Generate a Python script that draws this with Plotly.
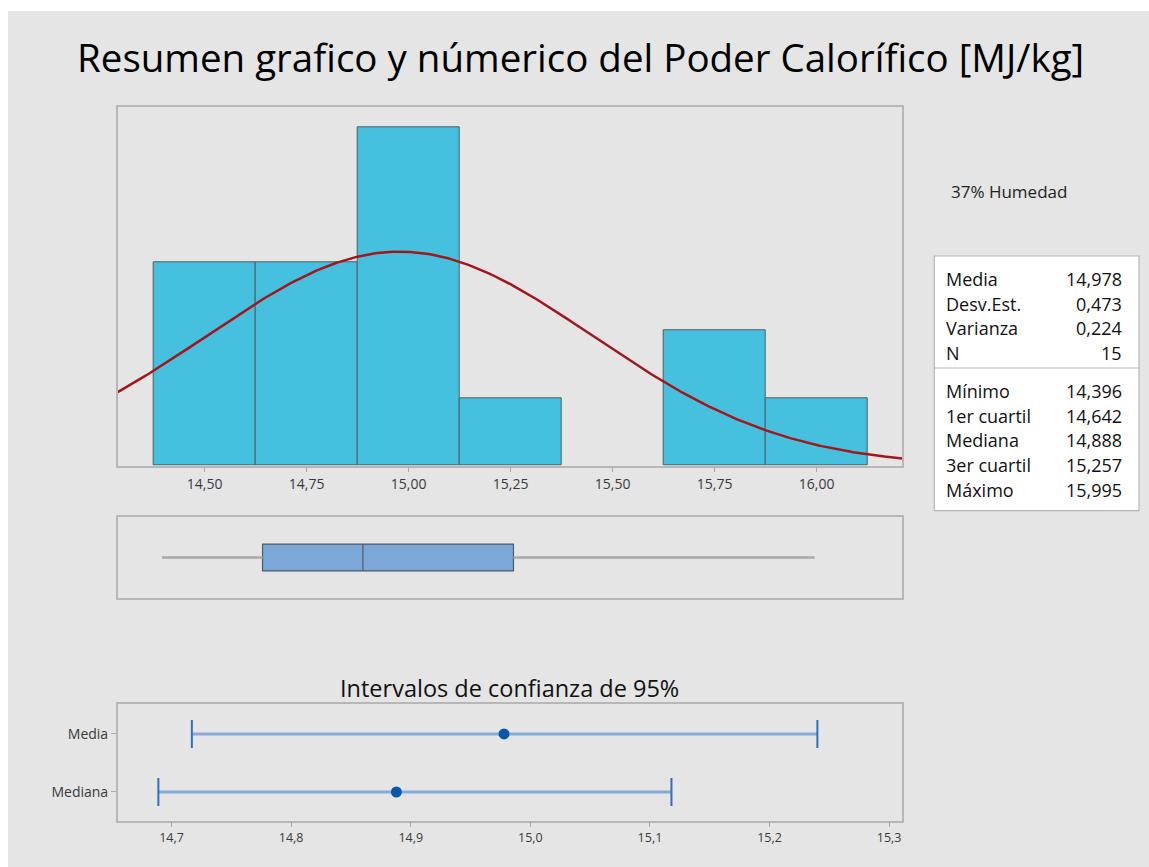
import numpy as np
import plotly.graph_objects as go

# ---------------- data ----------------
bin_centers = [14.5, 14.75, 15.0, 15.25, 15.5, 15.75, 16.0]
counts = [3, 3, 5, 1, 0, 2, 1]
bin_width = 0.25

mean_val = 14.978
sd_val = 0.473
n_val = 15
min_val = 14.396
q1_val = 14.642
median_val = 14.888
q3_val = 15.257
max_val = 15.995

stat_labels_top = ["Media", "Desv.Est.", "Varianza", "N"]
stat_values_top = ["14,978", "0,473", "0,224", "15"]
stat_labels_bot = ["Mínimo", "1er cuartil", "Mediana", "3er cuartil", "Máximo"]
stat_values_bot = ["14,396", "14,642", "14,888", "15,257", "15,995"]

ci_labels = ["Mediana", "Media"]
ci_center = [14.888, 14.978]
ci_low = [14.689, 14.717]
ci_high = [15.118, 15.240]

hist_ticks = [14.50, 14.75, 15.00, 15.25, 15.50, 15.75, 16.00]
ci_ticks = [14.7, 14.8, 14.9, 15.0, 15.1, 15.2, 15.3]

# ---------------- layout helpers ----------------
W, H = 1149, 867
FONT = "Open Sans"

def px(x):
    return x / W

def py(y):
    return 1 - y / H

hist_xrange = [14.287, 16.21]
ci_xrange = [14.655, 15.311]

fig = go.Figure()

# histogram (no outline for empty bins)
fig.add_trace(go.Bar(
    x=bin_centers, y=counts, width=bin_width,
    marker=dict(color="#45c1df",
                line=dict(color="#4b5d66", width=[1 if c > 0 else 0 for c in counts])),
    xaxis="x", yaxis="y", showlegend=False, hoverinfo="x+y"))

# fitted normal curve from the reported mean / sd
xs = np.linspace(hist_xrange[0], hist_xrange[1], 400)
ys = n_val * bin_width * np.exp(-0.5 * ((xs - mean_val) / sd_val) ** 2) / (sd_val * np.sqrt(2 * np.pi))
fig.add_trace(go.Scatter(x=xs, y=ys, mode="lines",
                         line=dict(color="#a3171b", width=2.5),
                         xaxis="x", yaxis="y", showlegend=False, hoverinfo="skip"))

# boxplot whiskers (gray) and box
for a, b in [(min_val, q1_val), (q3_val, max_val)]:
    fig.add_trace(go.Scatter(x=[a, b], y=[0, 0], mode="lines",
                             line=dict(color="#a9a9a9", width=2.5),
                             xaxis="x2", yaxis="y2", showlegend=False, hoverinfo="skip"))
fig.add_trace(go.Box(
    y=[0], q1=[q1_val], median=[median_val], q3=[q3_val],
    lowerfence=[q1_val], upperfence=[q3_val],
    orientation="h", width=1.0, whiskerwidth=0,
    fillcolor="#7ba7d9", line=dict(color="#4f5b66", width=1.2),
    xaxis="x2", yaxis="y2", showlegend=False, boxpoints=False))

# confidence intervals
for i in range(len(ci_labels)):
    fig.add_trace(go.Scatter(x=[ci_low[i], ci_high[i]], y=[i, i], mode="lines",
                             line=dict(color="#86abd9", width=3),
                             xaxis="x3", yaxis="y3", showlegend=False, hoverinfo="skip"))
    fig.add_trace(go.Scatter(x=[ci_low[i], ci_high[i]], y=[i, i], mode="markers",
                             marker=dict(symbol="line-ns", size=20,
                                         line=dict(color="#2f70bd", width=2)),
                             xaxis="x3", yaxis="y3", showlegend=False, hoverinfo="x"))
fig.add_trace(go.Scatter(x=ci_center, y=list(range(len(ci_labels))), mode="markers",
                         marker=dict(color="#0b58aa", size=11),
                         xaxis="x3", yaxis="y3", showlegend=False, hoverinfo="x"))

frame = dict(showline=True, mirror=True, linecolor="#b7b7b7", linewidth=1.5,
             showgrid=False, zeroline=False)

fig.update_layout(
    width=W, height=H,
    margin=dict(l=0, r=0, t=0, b=0),
    paper_bgcolor="white", plot_bgcolor="white",
    separators=",.",
    bargap=0,
    xaxis=dict(domain=[px(117.7), px(902.3)], range=hist_xrange, anchor="y",
               tickvals=hist_ticks, tickformat=".2f", ticks="outside", ticklen=5,
               tickcolor="#a8a8a8", tickfont=dict(family=FONT, size=14, color="#3a3a3a"), **frame),
    yaxis=dict(domain=[py(465.7), py(107.3)], range=[0, 5.296], anchor="x",
               showticklabels=False, ticks="", **frame),
    xaxis2=dict(domain=[px(117.7), px(902.3)], range=hist_xrange, anchor="y2",
                showticklabels=False, ticks="", **frame),
    yaxis2=dict(domain=[py(597.7), py(517.3)], range=[-1.5, 1.5], anchor="x2",
                showticklabels=False, ticks="", **frame),
    xaxis3=dict(domain=[px(117.7), px(902.3)], range=ci_xrange, anchor="y3",
                tickvals=ci_ticks, tickformat=".1f", ticks="outside", ticklen=5,
                tickcolor="#a8a8a8", tickfont=dict(family=FONT, size=12.5, color="#3a3a3a"), **frame),
    yaxis3=dict(domain=[py(820.7), py(703.7)], range=[-0.495, 1.522], anchor="x3",
                tickvals=list(range(len(ci_labels))), ticktext=ci_labels,
                ticks="outside", ticklen=5, tickcolor="#a8a8a8",
                tickfont=dict(family=FONT, size=14, color="#3a3a3a"), **frame),
)

shapes = [
    # gray page background
    dict(type="rect", xref="paper", yref="paper", x0=px(8), x1=1.0, y0=0, y1=py(11),
         fillcolor="#e5e5e5", line=dict(width=0), layer="below"),
    # stats box
    dict(type="rect", xref="paper", yref="paper", x0=px(934.3), x1=px(1139), y0=py(510.7), y1=py(256),
         fillcolor="white", line=dict(color="#b7b7b7", width=1.2), layer="below"),
    dict(type="line", xref="paper", yref="paper", x0=px(934.3), x1=px(1139), y0=py(368), y1=py(368),
         line=dict(color="#b7b7b7", width=1.2)),
]

annotations = [
    dict(text="Resumen grafico y númerico del Poder Calorífico [MJ/kg]", x=px(580.5), y=py(57),
         xref="paper", yref="paper", showarrow=False, xanchor="center", yanchor="middle",
         font=dict(family=FONT, size=38.5, color="#000000")),
    dict(text="Intervalos de confianza de 95%", x=px(509.5), y=py(688),
         xref="paper", yref="paper", showarrow=False, xanchor="center", yanchor="middle",
         font=dict(family=FONT, size=23.5, color="#111111")),
    dict(text="37% Humedad", x=px(949), y=py(191.7),
         xref="paper", yref="paper", showarrow=False, xanchor="left", yanchor="middle",
         font=dict(family=FONT, size=17, color="#222222")),
]

row_y_top = [279, 303.7, 328.4, 353.1]
row_y_bot = [391, 415.7, 440.4, 465.1, 489.8]
stat_font = dict(family=FONT, size=18, color="#111111")
for lab, val, yy in list(zip(stat_labels_top, stat_values_top, row_y_top)) + \
        list(zip(stat_labels_bot, stat_values_bot, row_y_bot)):
    annotations.append(dict(text=lab, x=px(944), y=py(yy), xref="paper", yref="paper",
                            showarrow=False, xanchor="left", yanchor="middle", font=stat_font))
    annotations.append(dict(text=val, x=px(1124), y=py(yy), xref="paper", yref="paper",
                            showarrow=False, xanchor="right", yanchor="middle", font=stat_font))

fig.update_layout(shapes=shapes, annotations=annotations)

fig.write_html("out.html",
               config={"displayModeBar": False},
               post_script="document.body.style.margin='0px';document.body.style.overflow='hidden';")
